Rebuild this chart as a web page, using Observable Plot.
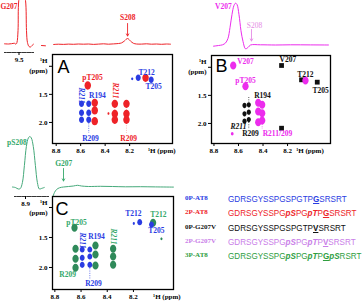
<!DOCTYPE html>
<html>
<head>
<meta charset="utf-8">
<script src="https://cdn.jsdelivr.net/npm/d3@7"></script>
<script src="https://cdn.jsdelivr.net/npm/@observablehq/plot@0.6"></script>
<style>
  html, body { margin: 0; padding: 0; background: #fff; }
  #fig { position: relative; width: 363px; height: 302px; overflow: hidden; background: #fff; }
</style>
</head>
<body>
<div id="fig"></div>
<script>
// ---------- colours & fonts ----------
const SERIF = "'Liberation Serif','Times New Roman',Times,serif";
const SANS = "'Liberation Sans',Arial,Helvetica,sans-serif";
const BLUE = "#2a3ce2", RED = "#ee2328", BLACK = "#111111", MAGENTA = "#ec2ced";
const PINK = "#e58be5", GREEN_TRACE = "#45a97a", GREEN_PEAK = "#2f8a5a", GREEN_LABEL = "#34a86a";

// ---------- 1D amide spectra: [1H ppm, intensity] ----------
const red2P_G207 = [[9.62,0.7],[9.587,0.5],[9.562,0.8],[9.537,1.2],[9.525,0.3],[9.517,2],[9.508,14],[9.502,44],[9.475,62],[9.446,44],[9.438,14],[9.43,2],[9.417,-2],[9.405,-2.5],[9.392,-1],[9.38,0.3]];
const red2P_tail = [[9.314,-1],[9.281,-1.3]];
const red2P_main = [[8.822,0],[8.781,0.3],[8.74,0.1],[8.699,0.4],[8.659,0.2],[8.618,0.5],[8.577,0.3],[8.536,0.5],[8.495,0.1],[8.454,0.4],[8.413,0.7],[8.373,0.3],[8.332,0.6],[8.291,1.0],[8.266,1.6],[8.242,3.6],[8.217,6.0],[8.193,3.4],[8.169,1.2],[8.144,0.5],[8.103,0.4],[8.062,0.7],[8.022,0.3],[7.981,0.5],[7.94,0.2],[7.899,0.5],[7.866,0.3]];
const mag2P_G207V = [[8.804,-1.2],[8.763,-0.5],[8.73,0.2],[8.706,2],[8.686,6.5],[8.669,17.5],[8.653,30.5],[8.637,39.5],[8.624,41.8],[8.612,40.5],[8.596,30.5],[8.58,14.5],[8.563,3.5],[8.543,-3.8],[8.523,-2.5],[8.502,0],[8.421,0.2],[8.298,0],[8.176,0.2],[8.013,0.1],[7.866,0]];
const grn3P_pS208 = [[9.006,0.5],[8.982,0],[8.958,-1.5],[8.942,-1],[8.925,5],[8.909,22],[8.893,41],[8.877,49.5],[8.865,51],[8.853,49.5],[8.837,41],[8.82,22],[8.804,5],[8.788,-1.5],[8.772,-1],[8.748,0]];
const grn3P_main = [[8.814,-10],[8.803,-6],[8.787,-3],[8.765,-1.3],[8.734,-0.5],[8.696,0],[8.658,0.5],[8.627,1.2],[8.597,0.5],[8.543,0],[8.452,0.2],[8.36,0],[8.261,-0.3],[8.146,-0.2],[8.032,-0.4],[7.894,-0.6]];

// spectrum annotations: [text, ppm, intensity] and arrows [ppm, from, to]
const redNotes = [["S208", 8.215, 26.7]];
const redArrows = [[8.217, 21, 8.5]];
const redInsetNotes = [["G207", 9.512, 38]];
const magNotes = [["V207", 8.655, 38]];
const magFaint = [["S208", 8.469, 19.5]];
const magArrows = [[8.494, 15.5, 4]];
const grnInsetNotes = [["pS208", 8.97, 44.5]];
const grnNotes = [["G207", 8.732, 23]];
const grnArrows = [[8.734, 18, 5.5]];

// ---------- 2D cross peaks: [1H amide ppm, 1H side-chain ppm] ----------
const peaksA_0P = [[8.593,1.668],[8.593,1.828],[8.593,1.953],[8.534,1.668],[8.534,1.828],[8.534,1.953],[8.130,1.205],[8.024,1.240]];
const weakA_0P = [[8.179,1.223]];
const peaksA_2P = [[8.485,1.650],[8.485,1.787],[8.485,1.978],[8.321,1.668],[8.321,1.846],[8.321,1.953],[8.226,1.668],[8.226,1.846],[8.226,1.953],[8.542,1.342],[8.070,1.205]];
const weakA_2P = [[8.373,1.840]];

const peaksB_0P = [[8.551,1.680],[8.551,1.828],[8.551,1.960],[8.516,1.668],[8.516,1.800],[8.516,1.930]];
const strongB_0P = [[8.249,2.085],[8.249,0.968],[8.086,1.223],[7.958,1.265]];
const peaksB_2P = [[8.439,1.632],[8.439,1.787],[8.439,1.978],[8.407,1.668],[8.407,1.818],[8.407,1.948],[8.543,1.337],[8.054,1.235],[8.643,0.968]];
const weakB_2P = [[8.651,2.184]];

const peaksC_3P = [[8.650,1.339],[8.642,1.689],[8.642,1.855],[8.642,2.005],[8.490,1.634],[8.490,1.784],[8.490,1.967],[8.355,1.689],[8.355,1.817],[8.355,1.955],[8.050,1.255]];
const weakC_3P = [[7.986,1.522]];
const peaksC_0P = [[8.591,1.700],[8.591,1.839],[8.591,1.955],[8.533,1.700],[8.533,1.817],[8.533,1.955],[8.152,1.245],[8.062,1.284]];
const weakC_0P = [[8.197,1.267]];

// assignments: [text, ppm x, ppm y]
const labelsA_0P = [["T212",8.062,1.111],["T205",8.005,1.360],["R194",8.463,1.520],["R209",8.520,2.286]];
const vertA_0P = [["R211",8.593,1.520]];
const labelsA_2P = [["pT205",8.503,1.200],["R209",8.209,2.286]];
const vertA_2P = [["R211",8.315,1.431]];

const labelsB_0P = [["V207",8.197,0.861],["T212",8.054,1.128],["T205",7.931,1.413],["R194",8.404,1.502],["R209",8.502,2.188]];
const italicB_0P = [["R211",8.600,2.054]];
const labelsB_2P = [["V207",8.543,0.897],["pT205",8.543,1.235],["R211/209",8.282,2.188]];

const labelsC_3P = [["pT205",8.635,1.250],["T212",8.009,1.117],["R209",8.703,2.117]];
const vertC_3P = [["R211",8.356,1.484]];
const labelsC_0P = [["R194",8.482,1.492],["T212",8.200,1.109],["T205",8.024,1.392],["R209",8.505,2.267]];
const vertC_0P = [["R211",8.589,1.550]];

// dotted guides: [ppm x, ppm y1, ppm y2]
const guidesA_0P = [[8.534,1.983,2.197]];
const guidesA_2P = [[8.226,1.609,2.197],[8.321,1.609,2.040]];
const guidesB_0P = [[8.516,1.983,2.108],[8.516,1.538,1.627]];
const guidesB_2P = [[8.407,2.019,2.108]];
const guidesC_0P = [[8.533,1.983,2.200]];
const guidesC_3P = [[8.642,2.030,2.070]];

// ---------- sequences ----------
const sampleNames = ["0P-AT8", "2P-AT8", "0P-G207V", "2P-G207V", "3P-AT8"];
const sampleColors = [BLUE, RED, BLACK, "#c97de8", "#2f9e3f"];
// [pX] = phosphorylated residue, _X_ = residue 207
const sequences = [
  "GDRSGYSSPGSPGTP_G_SRSRT",
  "GDRSGYSSPG[pS]PG[pT]P_G_SRSRT",
  "GDRSGYSSPGSPGTP_V_SRSRT",
  "GDRSGYSSPG[pS]PG[pT]P_V_SRSRT",
  "GDRSGYSSPG[pS]PG[pT]P_G_[pS]RSRT"
];

// ---------- helpers ----------
const fig = document.getElementById("fig");
function place(svg, left, top) {
  svg.style.position = "absolute";
  svg.style.left = left + "px";
  svg.style.top = top + "px";
  svg.style.background = "transparent";
  svg.style.overflow = "visible";
  svg.style.maxWidth = "none";
  svg.style.fontFamily = SERIF;
  fig.appendChild(svg);
}
// slightly tall contour blob for cross peaks
const blob = {
  draw(ctx, size) {
    const r = Math.sqrt(size / Math.PI), rx = r * 0.9, ry = r * 1.15, k = 0.5523;
    ctx.moveTo(rx, 0);
    ctx.bezierCurveTo(rx, ry * k, rx * k, ry, 0, ry);
    ctx.bezierCurveTo(-rx * k, ry, -rx, ry * k, -rx, 0);
    ctx.bezierCurveTo(-rx, -ry * k, -rx * k, -ry, 0, -ry);
    ctx.bezierCurveTo(rx * k, -ry, rx, -ry * k, rx, 0);
    ctx.closePath();
  }
};
const X = d => d[0], Y = d => d[1];
const lab = (data, fill, extra = {}) => Plot.text(data, {x: d => d[1], y: d => d[2], text: d => d[0], fill, fontSize: 7.5, fontWeight: "bold", fontFamily: SERIF, ...extra});
const guide = (data, stroke) => Plot.ruleX(data, {x: d => d[0], y1: d => d[1], y2: d => d[2], stroke, strokeWidth: 0.7, strokeDasharray: "1,1.3"});
const peaks = (data, fill, r) => Plot.dot(data, {x: X, y: Y, fill, r, symbol: blob});
const arrows = (data, stroke) => Plot.arrow(data, {x1: d => d[0], x2: d => d[0], y1: d => d[1], y2: d => d[2], stroke, strokeWidth: 0.9, headLength: 4});
const note = (data, fill, extra = {}) => Plot.text(data, {x: d => d[1], y: d => d[2], text: d => d[0], fill, fontSize: 7.5, fontWeight: "bold", fontFamily: SERIF, ...extra});
const fmt = d3.format(".1f");

function panel2D({frame: [fx, fy, fw, fh], xDomain, yDomain, letter, letterDx, letterDy, xLabelAt, marks}) {
  const m = {l: 40, t: 8, r: 24, b: 18};
  const svg = Plot.plot({
    width: fw + m.l + m.r, height: fh + m.t + m.b,
    marginLeft: m.l, marginTop: m.t, marginRight: m.r, marginBottom: m.b,
    x: {domain: xDomain},
    y: {domain: yDomain, reverse: true},
    marks: [
      Plot.axisX({ticks: [8.8, 8.6, 8.4, 8.2], tickSize: 3, tickPadding: 2, tickFormat: fmt, fontSize: 7, fontWeight: "bold", fontFamily: SERIF, label: null}),
      Plot.axisY({ticks: [1.0, 1.5, 2.0], tickSize: 3, tickPadding: 2, tickFormat: d => d === 1 ? "" : fmt(d), fontSize: 7, fontWeight: "bold", fontFamily: SERIF, label: null}),
      Plot.text(["\u00B9H\n(ppm)"], {frameAnchor: "top-left", dx: -5, dy: 1, textAnchor: "end", lineAnchor: "top", lineHeight: 1.5, fontSize: 7, fontWeight: "bold", fontFamily: SERIF}),
      Plot.text(["\u00B9H (ppm)"], {x: xLabelAt, frameAnchor: "bottom", dy: 9.5, textAnchor: "start", fontSize: 7, fontWeight: "bold", fontFamily: SERIF}),
      Plot.text([letter], {frameAnchor: "top-left", dx: letterDx, dy: letterDy, textAnchor: "start", lineAnchor: "top", fontSize: 18, fontFamily: SANS, fill: "#000"}),
      ...marks,
      Plot.frame({stroke: "#000", strokeWidth: 1.3})
    ]
  });
  place(svg, fx - m.l, fy - m.t);
}

function spectrum({left, top, width, height, margins = [0, 0, 0, 0], xDomain, yDomain, marks}) {
  const [t, r, b, l] = margins;
  const svg = Plot.plot({
    width, height, marginTop: t, marginRight: r, marginBottom: b, marginLeft: l,
    x: {domain: xDomain, axis: null},
    y: {domain: yDomain, axis: null},
    marks
  });
  place(svg, left, top);
}

// ---------- top row: 1D spectra ----------
spectrum({
  left: 0, top: 0, width: 48, height: 66, margins: [0, 15, 14, 4],
  xDomain: [9.62, 9.38], yDomain: [-8, 44],
  marks: [
    Plot.line(red2P_G207, {x: X, y: Y, stroke: RED, strokeWidth: 1, curve: "catmull-rom"}),
    Plot.line(red2P_tail, {x: X, y: Y, stroke: RED, strokeWidth: 1}),
    note(redInsetNotes, RED, {textAnchor: "end", fontSize: 7.5}),
    Plot.frame({anchor: "bottom", stroke: "#000", strokeWidth: 0.8, strokeDasharray: "1.5,1"}),
    Plot.axisX({ticks: [9.5], tickSize: 3, tickPadding: 2, tickFormat: fmt, fontSize: 7, fontWeight: "bold", fontFamily: SERIF, label: null})
  ]
});
spectrum({
  left: 52, top: 0, width: 120, height: 52,
  xDomain: [8.83, 7.85], yDomain: [-8, 44],
  marks: [
    Plot.line(red2P_main, {x: X, y: Y, stroke: RED, strokeWidth: 1, curve: "catmull-rom"}),
    arrows(redArrows, RED),
    note(redNotes, RED)
  ]
});
spectrum({
  left: 211, top: 0, width: 119, height: 52,
  xDomain: [8.82, 7.85], yDomain: [-7.5, 44.5],
  marks: [
    Plot.line(mag2P_G207V, {x: X, y: Y, stroke: MAGENTA, strokeWidth: 1, curve: "catmull-rom"}),
    arrows(magArrows, PINK),
    note(magNotes, MAGENTA, {textAnchor: "end"}),
    note(magFaint, PINK, {fontWeight: "normal"})
  ]
});

// ---------- middle row: 3P-AT8 spectrum ----------
spectrum({
  left: 0, top: 130, width: 52, height: 80, margins: [0, 3, 14, 14],
  xDomain: [8.989, 8.706], yDomain: [-9, 57],
  marks: [
    Plot.line(grn3P_pS208, {x: X, y: Y, stroke: GREEN_TRACE, strokeWidth: 1, curve: "catmull-rom"}),
    note(grnInsetNotes, GREEN_LABEL),
    Plot.frame({anchor: "bottom", stroke: "#000", strokeWidth: 0.8, strokeDasharray: "1.5,1"}),
    Plot.axisX({ticks: [8.9], tickSize: 3, tickPadding: 2, tickFormat: fmt, fontSize: 7, fontWeight: "bold", fontFamily: SERIF, label: null})
  ]
});
spectrum({
  left: 52, top: 156, width: 121, height: 44,
  xDomain: [8.818, 7.894], yDomain: [-14, 30],
  marks: [
    Plot.line(grn3P_main, {x: X, y: Y, stroke: GREEN_TRACE, strokeWidth: 1, curve: "catmull-rom"}),
    arrows(grnArrows, GREEN_LABEL),
    note(grnNotes, GREEN_LABEL)
  ]
});

// ---------- 2D panels ----------
panel2D({
  frame: [52, 54, 120, 89], xDomain: [8.83, 7.85], yDomain: [0.79, 2.375],
  letter: "A", letterDx: 5, letterDy: 6, xLabelAt: 8.05,
  marks: [
    guide(guidesA_2P, "#f4a0a0"), guide(guidesA_0P, BLUE),
    peaks(peaksA_0P, BLUE, 2.8), peaks(weakA_0P, BLUE, 1.2),
    peaks(peaksA_2P, RED, 3.6), peaks(weakA_2P, RED, 1.1),
    lab(labelsA_0P, BLUE), lab(vertA_0P, BLUE, {rotate: 90, fontStyle: "italic"}),
    lab(labelsA_2P, RED), lab(vertA_2P, RED, {rotate: 90, fontStyle: "italic"})
  ]
});
panel2D({
  frame: [211, 55, 119, 88], xDomain: [8.82, 7.85], yDomain: [0.79, 2.357],
  letter: "B", letterDx: 4, letterDy: 4, xLabelAt: 8.13,
  marks: [
    guide(guidesB_0P, BLACK), guide(guidesB_2P, MAGENTA),
    peaks(peaksB_0P, BLACK, 2.3), Plot.dot(strongB_0P, {x: X, y: Y, fill: BLACK, r: 2.7, symbol: "square"}),
    peaks(peaksB_2P, MAGENTA, 3.5), peaks(weakB_2P, MAGENTA, 1.5),
    lab(labelsB_0P, BLACK), lab(italicB_0P, BLACK, {fontStyle: "italic"}),
    lab(labelsB_2P, MAGENTA)
  ]
});
panel2D({
  frame: [52, 196, 121, 93], xDomain: [8.818, 7.894], yDomain: [0.817, 2.367],
  letter: "C", letterDx: 3, letterDy: 6, xLabelAt: 8.05,
  marks: [
    guide(guidesC_0P, BLUE), guide(guidesC_3P, GREEN_LABEL),
    peaks(peaksC_3P, GREEN_PEAK, 3.5), peaks(weakC_3P, GREEN_PEAK, 1.2),
    peaks(peaksC_0P, BLUE, 2.7), peaks(weakC_0P, BLUE, 1.2),
    lab(labelsC_3P, GREEN_LABEL), lab(vertC_3P, GREEN_LABEL, {rotate: 90, fontStyle: "italic"}),
    lab(labelsC_0P, BLUE), lab(vertC_0P, BLUE, {rotate: 90, fontStyle: "italic"})
  ]
});

// ---------- sequence key ----------
sampleNames.forEach((name, i) => {
  const row = document.createElement("div");
  row.style.cssText = `position:absolute;left:185px;top:${201 + i * 14.3 - 7}px;height:14px;line-height:14px;white-space:nowrap;color:${sampleColors[i]};`;
  const tag = document.createElement("span");
  tag.textContent = name;
  tag.style.cssText = `display:inline-block;width:43px;font:bold 7px ${SERIF};vertical-align:top;`;
  row.appendChild(tag);
  const seq = document.createElement("span");
  seq.style.cssText = `display:inline-block;vertical-align:top;font:8.8px ${SANS};transform:scaleX(0.92);transform-origin:0 50%;`;
  const re = /\[(p[A-Z])\]|_([A-Z])_|([A-Z]+)/g;
  let mt;
  while ((mt = re.exec(sequences[i]))) {
    const s = document.createElement("span");
    if (mt[1]) { s.textContent = mt[1]; s.style.cssText = "font-weight:bold;font-style:italic;"; }
    else if (mt[2]) { s.textContent = mt[2]; s.style.cssText = "font-weight:bold;text-decoration:underline;"; }
    else s.textContent = mt[3];
    seq.appendChild(s);
  }
  row.appendChild(seq);
  fig.appendChild(row);
});
</script>
</body>
</html>
